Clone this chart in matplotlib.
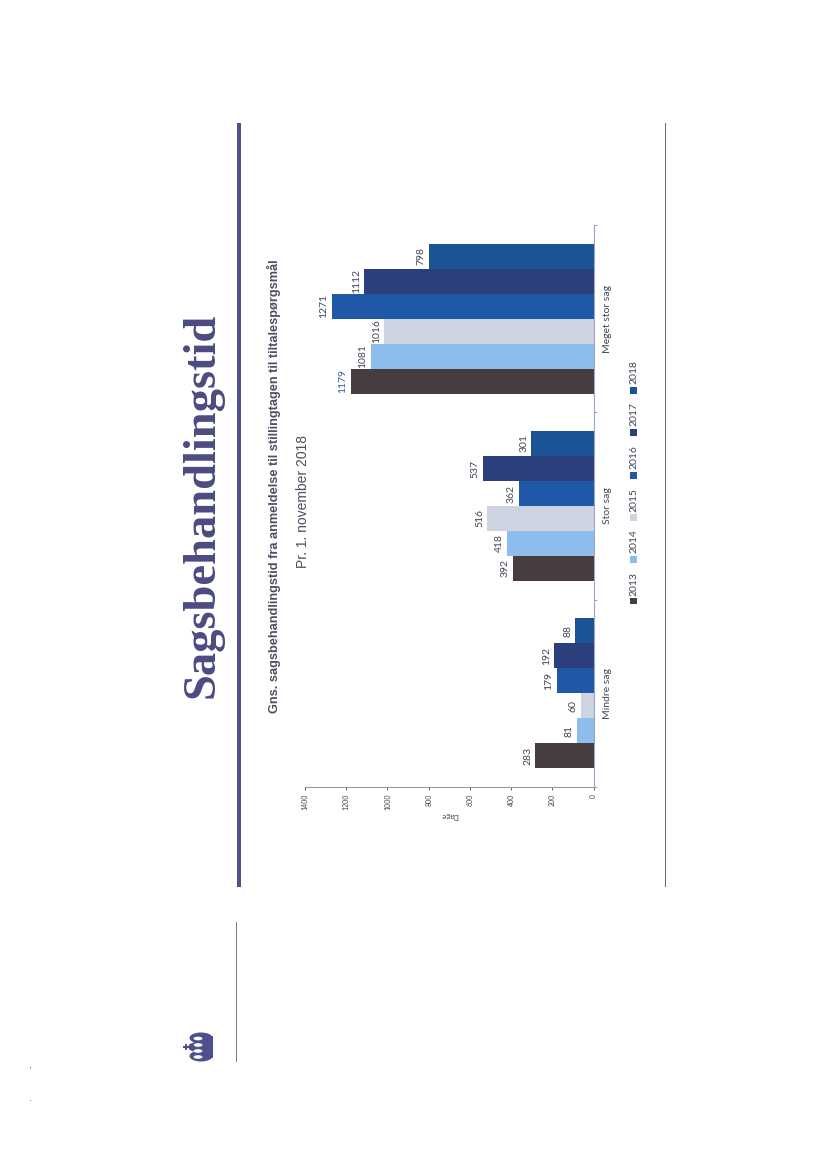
#!/usr/bin/env python3

import numpy as np
import matplotlib
matplotlib.use("Agg")
import matplotlib.pyplot as plt
from matplotlib.patches import Rectangle, Ellipse

W = 827
H = 1169

YEARS = ["2013", "2014", "2015", "2016", "2017", "2018"]
CATEGORIES = ["Mindre sag", "Stor sag", "Meget stor sag"]
V2013 = [283, 392, 1179]
V2014 = [81, 418, 1081]
V2015 = [60, 516, 1016]
V2016 = [179, 362, 1271]
V2017 = [192, 537, 1112]
V2018 = [88, 301, 798]
VALUES = [V2013, V2014, V2015, V2016, V2017, V2018]
COLORS = ["#453d40", "#8dbdec", "#cdd3e0", "#1f58a6", "#2b3f7d", "#1c5296"]
XTICKS = [0, 200, 400, 600, 800, 1000, 1200, 1400]

TITLE = "Sagsbehandlingstid"
SUB1 = "Gns. sagsbehandlingstid fra anmeldelse til stillingtagen til tiltalespørgsmål"
SUB2 = "Pr. 1. november 2018"
TEXT_COL = "#3f4656"
NAVY = "#4e4f8c"


def fx(x):
    return x / W


def fy(y):
    return 1 - y / H


def page_text(fig, x, y, s, **kw):
    kw.setdefault("rotation", 90)
    kw.setdefault("ha", "center")
    kw.setdefault("va", "center")
    kw.setdefault("family", "Lato")
    kw.setdefault("color", TEXT_COL)
    fig.text(fx(x), fy(y), s, **kw)


def page_rect(fig, x0, y0, x1, y1, color):
    fig.add_artist(Rectangle((fx(x0), fy(y1)), fx(x1) - fx(x0), fy(y0) - fy(y1),
                             transform=fig.transFigure, color=color, lw=0))


def page_oval(fig, x, y, w, h, color):
    fig.add_artist(Ellipse((fx(x), fy(y)), fx(w), fy(0) - fy(h),
                           transform=fig.transFigure, color=color, lw=0))


def crown(fig):
    # rough crown: lobes, a band on the right, white holes, ball and cross on the left
    for y, h in [(1038, 11), (1047, 12), (1056, 11)]:
        page_oval(fig, 201, y, 23, h, NAVY)
    page_rect(fig, 206, 1036, 213, 1058, NAVY)
    for y in [1038.5, 1045, 1051, 1057]:
        page_oval(fig, 198, y, 9, 3.6, "white")
    page_oval(fig, 191.5, 1047, 6, 7, NAVY)
    page_rect(fig, 183, 1046, 189, 1048, NAVY)
    page_rect(fig, 185, 1044, 187, 1050, NAVY)


def main():
    plt.rcParams["font.family"] = ["Lato", "DejaVu Sans"]
    fig = plt.figure(figsize=(W / 100, H / 100), dpi=100)

    ax = fig.add_axes([fx(305), fy(787), fx(593.5) - fx(305), fy(225) - fy(787)])

    n = len(YEARS)
    bar_h = 0.8 / n
    y_base = np.arange(len(CATEGORIES)) + 0.5
    for i, (vals, col) in enumerate(zip(VALUES, COLORS)):
        ypos = y_base + (i - (n - 1) / 2) * bar_h
        ax.barh(ypos, vals, height=bar_h, color=col, lw=0)
        for y, v in zip(ypos, vals):
            lab_col = "#2f5f9e" if v == 1179 else TEXT_COL
            ax.annotate(str(v), (v, y), xytext=(-5.5, 0), textcoords="offset points",
                        rotation=90, ha="center", va="center",
                        fontsize=7.5, color=lab_col)

    ax.set_xlim(1400, 0)
    ax.set_ylim(0, 3)
    ax.set_xticks(XTICKS)
    ax.tick_params(axis="x", labelrotation=90, labelsize=5, colors=TEXT_COL,
                   length=2, width=0.6, pad=3)
    ax.set_xlabel("Dage", fontsize=5.5, rotation=180, color=TEXT_COL, labelpad=1)

    ax.yaxis.tick_right()
    ax.set_yticks([0, 1, 2, 3])
    ax.set_yticklabels([])
    ax.set_yticks(y_base, minor=True)
    ax.set_yticklabels(CATEGORIES, minor=True, rotation=90, va="center", fontsize=7.5,
                       color=TEXT_COL)
    ax.tick_params(axis="y", which="major", length=2, width=0.6, color="#8a90a0")
    ax.tick_params(axis="y", which="minor", length=0, pad=7)

    for side in ["top", "left"]:
        ax.spines[side].set_visible(False)
    ax.spines["right"].set_color("#9aa7c4")
    ax.spines["bottom"].set_color("#9a9aa0")
    ax.spines["right"].set_linewidth(0.8)
    ax.spines["bottom"].set_linewidth(0.8)

    # page furniture
    page_rect(fig, 237, 123, 241, 887, NAVY)
    page_rect(fig, 664.7, 123, 665.7, 887, "#5d6f6a")
    page_rect(fig, 235.7, 922, 236.7, 1062, "#6f7f96")
    crown(fig)
    page_rect(fig, 29.5, 1066.5, 31, 1068, "#555555")
    page_rect(fig, 30, 1100, 31, 1101, "#888888")

    page_text(fig, 203, 505, TITLE, family="Liberation Serif", weight="bold",
              fontsize=33.5, color="#4a4b82")
    page_text(fig, 274, 486, SUB1, family="Liberation Sans", weight="bold", fontsize=9.2,
              color="#4a5060")
    page_text(fig, 303, 502, SUB2, family="Liberation Sans", fontsize=10, color="#4a4f5c")

    # legend
    sq_y = [601, 559, 517, 475, 433, 390]
    txt_y = [584, 541, 500, 457, 414, 372]
    for year, col, sy, ty in zip(YEARS, COLORS, sq_y, txt_y):
        page_rect(fig, 630, sy - 3.5, 637, sy + 3.5, col)
        page_text(fig, 633.5, ty, year, fontsize=7.5)

    fig.savefig("out.png", dpi=100)


if __name__ == "__main__":
    main()
